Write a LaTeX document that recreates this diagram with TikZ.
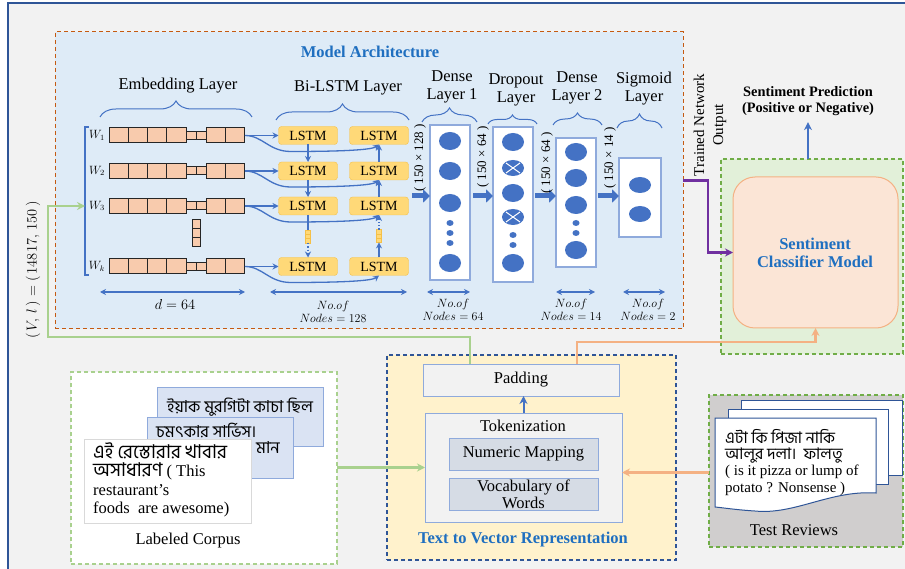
\documentclass[tikz,border=0pt]{standalone}
\usepackage{fontspec}
\setmainfont{Liberation Serif}
\newfontfamily\bn[Script=Bengali]{Hind Siliguri}
\usetikzlibrary{arrows.meta,decorations.pathreplacing,calc,shapes.geometric}
\setlength{\lineskiplimit}{-100pt}
\definecolor{bgg}{HTML}{F2F2F2}
\definecolor{framec}{HTML}{2F5597}
\definecolor{archfill}{HTML}{DEEBF7}
\definecolor{archdraw}{HTML}{C55A11}
\definecolor{bl}{HTML}{4472C4}
\definecolor{ttl}{HTML}{1F6FC0}
\definecolor{embf}{HTML}{F8CBAD}
\definecolor{lstmf}{HTML}{FFD978}
\definecolor{lstmd}{HTML}{F5C048}
\definecolor{lbd}{HTML}{8FAADC}
\definecolor{grnf}{HTML}{E2F0D9}
\definecolor{grnd}{HTML}{70AD47}
\definecolor{lgrn}{HTML}{A9D18E}
\definecolor{clff}{HTML}{FBE5D6}
\definecolor{clfd}{HTML}{F4B183}
\definecolor{orl}{HTML}{F4B183}
\definecolor{purp}{HTML}{7030A0}
\definecolor{yelf}{HTML}{FFF2CC}
\definecolor{nmf}{HTML}{D6DCE5}
\definecolor{testf}{HTML}{D0CECE}
\definecolor{crd}{HTML}{DAE3F3}
\definecolor{docd}{HTML}{2F5597}
\tikzset{
  rbox/.style={inner sep=0pt, outer sep=0pt},
  embbig/.style={rbox, draw=black!85, fill=embf, line width=1pt, minimum width=19.3pt, minimum height=15pt},
  embsm/.style={rbox, draw=black!85, fill=embf, line width=1pt, minimum width=10pt, minimum height=8pt},
  lstm/.style={rbox, draw=lstmd, fill=lstmf, rounded corners=3pt, minimum width=59pt, minimum height=18pt, font=\fontsize{14}{14}\selectfont},
  ysq/.style={rbox, draw=lstmd, fill=lstmf, line width=0.5pt, minimum width=5pt, minimum height=4.3pt},
  con/.style={draw=bl, line width=1.3pt},
  arr/.style={con, -{Stealth[length=6pt,width=6pt]}},
  darr/.style={con, {Stealth[length=6pt,width=6pt]}-{Stealth[length=6pt,width=6pt]}},
  blk/.style={draw=bl, line width=5pt, -{Triangle[length=7pt,width=13pt]}},
  lay/.style={rbox, draw=lbd, fill=white, line width=1.5pt},
  brc/.style={draw=bl, line width=1pt, decorate, decoration={brace, amplitude=#1}},
  brc/.default=12pt,
  hdr/.style={align=center, font=\fontsize{16.5}{18}\selectfont},
  nodelab/.style={align=center, font=\fontsize{13}{13.5}\selectfont},
  dimlab/.style={inner sep=0pt, font=\fontsize{13}{12}\selectfont},
  ttlf/.style={text=ttl, font=\bfseries\fontsize{16.5}{18}\selectfont, align=center},
  fat/.style={line width=2.5pt},
  tip/.style={-{Stealth[length=8pt,width=8pt]}},
}
\begin{document}
\begin{tikzpicture}[x=1pt,y=-1pt, font=\fontsize{16.5}{18}\selectfont]
\useasboundingbox (0,0) rectangle (905,569);
\clip (0,0) rectangle (905,569);
\fill[white] (0,0) rectangle (905,569);
\path[fill=bgg, draw=framec, line width=1.2pt] (8,3) rectangle (930,600);

% ---------------- Model architecture ----------------
\node[rbox, draw=archdraw, dashed, dash pattern=on 4pt off 3pt, fill=archfill, line width=1pt, minimum width=628pt, minimum height=297pt] (arch) at (369,180.5) {};
\node[ttlf] (archt) at (370,52) {Model Architecture};

% embedding layer
\node[hdr] (embh) at (178,86) {Embedding Layer};
\draw[brc=16pt] (100,117) -- (252,117);
\foreach \r/\yy/\lab in {1/135.5/W_1, 2/171/W_2, 3/206/W_3, 4/266.5/W_k}{
  \foreach \i/\xx in {1/118.65,2/137.95,3/157.25,4/176.55,7/215.85,8/235.15}{
    \node[embbig] (e\r-\i) at (\xx,\yy) {};
  }
  \foreach \i/\xx in {5/191.2,6/201.2}{
    \node[embsm] (e\r-\i) at (\xx,\yy) {};
  }
  \node[font=\fontsize{12}{12}\selectfont] (w\r) at (97,\yy) {$\lab$};
}
\foreach \i/\yy in {1/224.3,2/233,3/241.7}{
  \node[rbox, draw=black!85, fill=embf, line width=1pt, minimum width=8pt, minimum height=8.7pt] (ev\i) at (196,\yy) {};
}
\draw[con, line width=1.2pt] (89,127) -- (85,127) -- (85,275) -- (89,275);
\coordinate (brk) at (85,206);
\draw[darr] (100,292) -- (245,292);
\node[font=\fontsize{13.5}{13}\selectfont] (dlab) at (175,305) {$d = 64$};

% Bi-LSTM layer
\node[hdr] (bih) at (348,88) {Bi-LSTM Layer};
\draw[brc=16pt] (276,120) -- (409,120);
\foreach \r/\yy in {1/135.5,2/171,3/206,4/266.5}{
  \node[lstm] (la\r) at (308,\yy) {LSTM};
  \node[lstm] (lb\r) at (379,\yy) {LSTM};
}
\foreach \r in {1,2,3,4}{
  \draw[arr] (e\r-8.east) -- (la\r.west);
  \draw[arr] (e\r-8.east) .. controls +(18,0) and +(-22,0) .. ($(e\r-8.east)+(46,16)$) .. controls +(40,0) and +(-8,6) .. (lb\r.south);
}
\foreach \i/\yy in {1/232.2,2/236.5,3/240.8}{
  \node[ysq] (ya\i) at (308,\yy) {};
  \node[ysq] (yb\i) at (379,{\yy-0.5}) {};
}
\draw[arr] (la1.south) -- (la2.north);
\draw[arr] (la2.south) -- (la3.north);
\draw[con] (la3.south) -- (ya1.north);
\draw[arr, dotted] (ya3.south) -- (la4.north);
\draw[arr] (lb4.north) -- (yb3.south);
\draw[arr, dotted] (yb1.north) -- (lb3.south);
\draw[arr] (lb3.north) -- (lb2.south);
\draw[arr] (lb2.north) -- (lb1.south);
\draw[darr] (270,292) -- (407,292);
\node[nodelab] (bin) at (333,312) {$No.of$\\$Nodes = 128$};

% Dense / dropout / sigmoid
\node[hdr] (d1h) at (452,87) {Dense\\Layer 1};
\node[hdr] (doh) at (516,90) {Dropout\\Layer};
\node[hdr] (d2h) at (577,88) {Dense\\Layer 2};
\node[hdr] (sgh) at (644,89) {Sigmoid\\Layer};
\draw[brc=14pt] (422,122) -- (477,122);
\draw[brc=9pt] (488,124) -- (537,124);
\draw[brc=12pt] (553,125) -- (602,125);
\draw[brc=14pt] (617,128) -- (662,128);

\node[lay, minimum width=40pt, minimum height=155pt] (d1) at (450,202.5) {};
\node[lay, minimum width=40pt, minimum height=155pt] (dp) at (513,204.5) {};
\node[lay, minimum width=40pt, minimum height=129pt] (d2) at (576,202.5) {};
\node[lay, minimum width=42pt, minimum height=79pt] (sg) at (640,197.5) {};

\foreach \yy in {141,171,203,263} \fill[bl] (450,\yy) ellipse [x radius=11pt, y radius=9pt];
\foreach \yy in {223,233,243} \fill[bl] (450,\yy) ellipse [x radius=3.5pt, y radius=3pt];
\foreach \yy in {142,193,263} \fill[bl] (513,\yy) ellipse [x radius=11pt, y radius=9pt];
\foreach \yy in {168,217}{
  \fill[bl] (513,\yy) ellipse [x radius=11pt, y radius=8pt];
  \draw[white, line width=1pt] (506,{\yy-5}) -- (520,{\yy+5});
  \draw[white, line width=1pt] (506,{\yy+5}) -- (520,{\yy-5});
}
\foreach \yy in {235,245} \fill[bl] (513,\yy) ellipse [x radius=3.5pt, y radius=3pt];
\foreach \yy in {152,178,205,250} \fill[bl] (576,\yy) ellipse [x radius=11pt, y radius=9pt];
\foreach \yy in {223,233} \fill[bl] (576,\yy) ellipse [x radius=3.5pt, y radius=3pt];
\foreach \yy in {185,214} \fill[bl] (640,\yy) ellipse [x radius=11pt, y radius=8pt];

\coordinate (brow) at (0,196);
\draw[blk] ([xshift=-18pt]d1.west |- brow) -- (d1.west |- brow);
\draw[blk] ([xshift=-20pt]dp.west |- brow) -- (dp.west |- brow);
\draw[blk] ([xshift=-21pt]d2.west |- brow) -- (d2.west |- brow);
\draw[blk] ([xshift=-21pt]sg.west |- brow) -- (sg.west |- brow);
\node[dimlab] (dl1) at (420,158) {\rotatebox{90}{( 150 × 128 )}};
\node[dimlab] (dl2) at (483,157) {\rotatebox{90}{( 150 × 64 )}};
\node[dimlab] (dl3) at (547,163) {\rotatebox{90}{( 150 × 64 )}};
\node[dimlab] (dl4) at (610,158) {\rotatebox{90}{( 150 × 14 )}};

\draw[darr] (427,292) -- (470,292);
\draw[darr] (556,292) -- (595,292);
\draw[darr] (623,292) -- (665,292);
\node[nodelab] (n1) at (453,310) {$No.of$\\$Nodes = 64$};
\node[nodelab] (n2) at (571,310) {$No.of$\\$Nodes = 14$};
\node[nodelab] (n3) at (648,310) {$No.of$\\$Nodes = 2$};

\node[rotate=90, font=\fontsize{15}{15}\selectfont] (vl) at (33,270) {$(\,V,\,l\,)=(\,14817,\,150\,)$};

% ---------------- classifier ----------------
\node[rbox, draw=grnd, dashed, dash pattern=on 4pt off 3pt, fill=grnf, line width=1.2pt, minimum width=182pt, minimum height=195pt] (grn) at (812,256.5) {};
\node[rbox, draw=clfd, fill=clff, line width=1pt, rounded corners=22pt, minimum width=165pt, minimum height=151pt] (clf) at (815.5,252.5) {};
\node[ttlf] (clft) at (815,253) {Sentiment\\Classifier Model};
\node[align=center, font=\bfseries\fontsize{14.4}{16}\selectfont] (pred) at (808,101) {Sentiment Prediction\\(Positive or Negative)};
\draw[con, line width=2pt, tip, shorten >=3pt] (pred.south |- grn.north) -- (pred.south);
\node[rotate=90, align=center, inner sep=0pt, font=\fontsize{15}{19}\selectfont] (tno) at (710,125) {Trained Network\\Output};
\draw[purp, fat, tip] (arch.east) -| ([xshift=-25pt]clf.west) -- (clf.west);

% ---------------- Labeled corpus ----------------
\node[rbox, draw=lgrn, dashed, dash pattern=on 4pt off 3pt, fill=white, line width=1.2pt, minimum width=266pt, minimum height=192pt] (corp) at (204,468) {};
\node[rbox, draw=lbd, fill=crd, line width=1pt, minimum width=166pt, minimum height=59pt] (c1) at (240,416.5) {};
\node[inner sep=0pt, font=\bn\fontsize{16.5}{18}\selectfont] (c1t) at (240,407) {ইয়াক মুরগিটা কাচা ছিল};
\node[rbox, draw=lbd, fill=crd, line width=1pt, minimum width=146pt, minimum height=61pt] (c2) at (220,447.5) {};
\node[anchor=west, inner sep=0pt, font=\bn\fontsize{16.5}{18}\selectfont] (c2t) at (156,431) {চমৎকার সার্ভিস।};
\node[inner sep=0pt, font=\bn\fontsize{16.5}{18}\selectfont] (c2m) at (268,448) {মান};
\node[rbox, draw=black!15, fill=white, line width=1pt, minimum width=167pt, minimum height=84pt] (c3) at (167.5,481) {};
\node[anchor=base west, inner sep=0pt, align=left, font=\fontsize{16.5}{18.5}\selectfont] (ftxt) at (93,513.5)
  {{\bn\fontsize{19}{18.5}\selectfont এই রেস্তোরার খাবার}\\{\bn\fontsize{19}{18.5}\selectfont অসাধারণ} ( This\\restaurant’s\\foods\ \ are awesome)};
\node (corpl) at (188,541) {Labeled Corpus};

% ---------------- Text to vector ----------------
\node[rbox, draw=framec, dashed, dash pattern=on 4pt off 3pt, fill=yelf, line width=1.2pt, minimum width=289pt, minimum height=205pt] (t2v) at (531.5,457.5) {};
\node[rbox, draw=lbd, fill=bgg, line width=1pt, minimum width=196pt, minimum height=32pt] (pad) at (521,380) {Padding};
\node[rbox, draw=lbd, fill=bgg, line width=1pt, minimum width=197pt, minimum height=109pt] (tok) at (523.5,467.5) {};
\node (tokt) at (523,426) {Tokenization};
\node[rbox, draw=lbd, fill=nmf, line width=1pt, minimum width=149pt, minimum height=32pt] (nm) at (523.5,454) {Numeric Mapping};
\node[rbox, draw=lbd, fill=nmf, line width=1pt, minimum width=149pt, minimum height=32pt, align=center, font=\fontsize{16.5}{17}\selectfont] (vw) at (523.5,494) {Vocabulary of\\Words};
\node[ttlf] (t2vt) at (523,540) {Text to Vector Representation};
\draw[con, line width=2pt, tip] (tok.north) -- (tok.north |- pad.south);

% ---------------- Test reviews ----------------
\node[rbox, draw=grnd, dashed, dash pattern=on 4pt off 3pt, fill=testf, line width=1.2pt, minimum width=194pt, minimum height=152pt] (test) at (806,471) {};
\node[rbox, draw=docd, fill=white, line width=1pt, minimum width=161pt, minimum height=75pt] (doc1) at (821.5,437.5) {};
\node[rbox, draw=docd, fill=white, line width=1pt, minimum width=160pt, minimum height=75pt] (doc2) at (808,446.5) {};
\draw[docd, fill=white, line width=1pt] (715,418) -- (876,418) -- (876,493) .. controls (830,490) and (795,515) .. (755,511) .. controls (738,510) and (725,508) .. (715,507) -- cycle;
\node[anchor=base west, inner sep=0pt, align=left, font=\fontsize{15}{16.3}\selectfont] (rtxt) at (725,492)
  {{\bn\fontsize{16}{16.3}\selectfont এটা কি পিজা নাকি}\\{\bn\fontsize{16}{16.3}\selectfont আলুর দলা।\ \ ফালতু}\\( is it pizza or lump of\\potato ? Nonsense )};
\node (testl) at (794,530) {Test Reviews};

% ---------------- connectors ----------------
\coordinate (tokR) at ([yshift=-5pt]tok.east);
\draw[lgrn, fat, tip] (corp.east |- tok.west) -- (tok.west);
\draw[orl, fat, tip] (test.west |- tokR) -- (tokR);
\coordinate (gl) at (48,337);
\draw[lgrn, fat, tip] ([xshift=-51pt]pad.north) |- (gl) |- (brk);
\draw[orl, fat, tip] ([xshift=56pt]pad.north) |- ([yshift=-14pt]clf.south) -- (clf.south);
\end{tikzpicture}
\end{document}
